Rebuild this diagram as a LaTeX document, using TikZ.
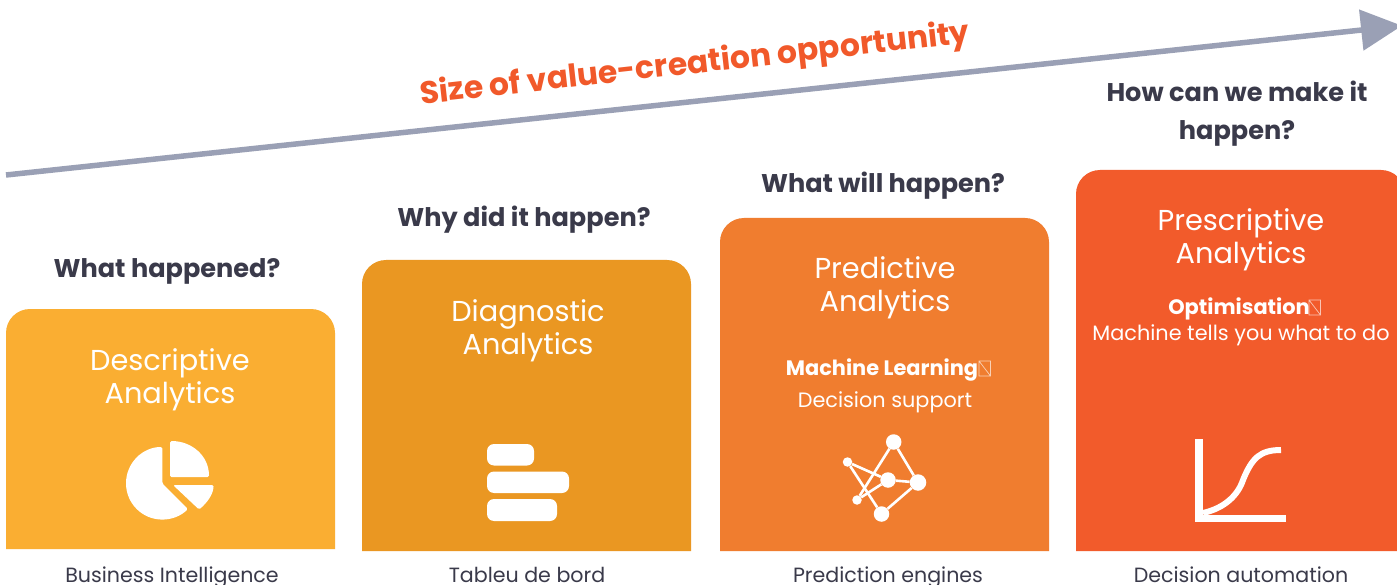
\documentclass[tikz,border=0pt]{standalone}
\usepackage{fontspec}
\setmainfont{Poppins}
\usetikzlibrary{arrows.meta}
\definecolor{barA}{HTML}{FAAE32}
\definecolor{barB}{HTML}{EA9722}
\definecolor{barC}{HTML}{F07D2F}
\definecolor{barD}{HTML}{F25B2B}
\definecolor{arrowgrey}{HTML}{9AA0B5}
\definecolor{ink}{HTML}{3A3A4A}
\definecolor{titleorange}{HTML}{F1592A}
\tikzset{
  x=1pt,y=-1pt,
  question/.style={font=\fontsize{25.6}{30}\selectfont\bfseries,text=ink,anchor=base,inner sep=0pt},
  heading/.style={font=\fontsize{28.8}{30}\selectfont,text=white,anchor=base,inner sep=0pt},
  strong/.style={font=\fontsize{20.9}{24}\selectfont\bfseries,text=white,anchor=base,inner sep=0pt},
  plain/.style={font=\fontsize{20.8}{24}\selectfont,text=white,anchor=base,inner sep=0pt},
  caption/.style={font=\fontsize{20.6}{24}\selectfont,text=ink,anchor=base,inner sep=0pt},
  netbig/.style={circle,fill=white,inner sep=0pt,minimum size=15.5pt},
  netsmall/.style={circle,fill=white,inner sep=0pt,minimum size=9.5pt},
  netedge/.style={draw=white,line width=2.6pt},
  tofu/.style={draw=white,opacity=.65,line width=.7pt},
  pill/.style={fill=white,rounded corners=7pt}
}
\begin{document}
\begin{tikzpicture}
\useasboundingbox (0,0) rectangle (1397,585);
\clip (0,0) rectangle (1397,585);
\fill[white] (0,0) rectangle (1397,585);
% bars
\fill[barA] (6,549) [rounded corners=24pt] -- (6,309) -- (335,309) [sharp corners] -- (335,549) -- cycle;
\fill[barB] (362,551) [rounded corners=24pt] -- (362,260) -- (691,260) [sharp corners] -- (691,551) -- cycle;
\fill[barC] (720,551) [rounded corners=24pt] -- (720,218) -- (1049,218) [sharp corners] -- (1049,551) -- cycle;
\fill[barD] (1076,551) [rounded corners=24pt] -- (1076,170) -- (1405,170) [sharp corners] -- (1405,551) -- cycle;
% arrow
\coordinate (arrowstart) at (6,175);
\coordinate (arrowend) at (1402,25.7);
\draw[arrowgrey,line width=5.5pt,-{Triangle[length=41pt,width=40pt]}] (arrowstart) -- (arrowend);
\node[font=\fontsize{31.4}{36}\selectfont\bfseries,text=titleorange,rotate=6.4,inner sep=0pt] (title) at (695,65) {Size of value-creation opportunity};
% questions
\node[question] (q1) at (167,278) {What happened?};
\node[question] (q2) at (524,227) {Why did it happen?};
\node[question] (q3) at (883,193) {What will happen?};
\node[question] (q4a) at (1237,102) {How can we make it};
\node[question] (q4b) at (1237,140) {happen?};
% headings
\node[heading] (h1a) at (170,370) {Descriptive};
\node[heading] (h1b) at (170,403) {Analytics};
\node[heading] (h2a) at (528,321) {Diagnostic};
\node[heading] (h2b) at (528,354) {Analytics};
\node[heading] (h3a) at (885,279) {Predictive};
\node[heading] (h3b) at (885,312) {Analytics};
\node[heading] (h4a) at (1241,231) {Prescriptive};
\node[heading] (h4b) at (1241,264) {Analytics};
% body
\node[strong] (m3) at (882,375) {Machine Learning};
\node[plain] (d3) at (885,407) {Decision support};
\node[strong] (m4) at (1239,314) {Optimisation};
\node[plain] (d4) at (1241,340) {Machine tells you what to do};
\draw[tofu] (979,361) rectangle (990.5,376) (979,361) -- (990.5,376);
\draw[tofu] (1309,300) rectangle (1320.5,315) (1309,300) -- (1320.5,315);
% captions
\node[caption] (c1) at (172,582) {Business Intelligence};
\node[caption] (c2) at (527,582) {Tableu de bord};
\node[caption] (c3) at (888,582) {Prediction engines};
\node[caption] (c4) at (1241,582) {Decision automation};
% pie icon
\fill[white,rounded corners=1.5pt] (162.3,483.3) -- (162.3,447) arc[start angle=-90,end angle=-315,radius=36.3] -- cycle;
\fill[white,rounded corners=1.5pt] (170,477) -- (170,441) .. controls (192,441) and (209,456) .. (209,477) -- cycle;
\fill[white,rounded corners=1.5pt] (173,485) -- (213.5,485) .. controls (213.5,494) and (207,503) .. (199,509.5) -- cycle;
% bars icon
\fill[pill] (487,444) rectangle (534,465.5);
\fill[pill] (487,471.5) rectangle (569,493);
\fill[pill] (487,499) rectangle (557,521);
% network icon
\node[netbig] (ntop) at (893.7,442) {};
\node[netsmall] (nleft) at (847.5,462) {};
\node[netbig] (nmid) at (888,480) {};
\node[netbig,minimum size=16.5pt] (nright) at (918,482.5) {};
\node[netbig] (nbot) at (881.5,514) {};
\node[netsmall] (nlow) at (857,500) {};
\draw[netedge] (ntop) -- (nright);
\draw[netedge] (ntop) -- (nlow);
\draw[netedge] (nleft) -- (nmid);
\draw[netedge] (nleft) -- (nbot);
\draw[netedge] (nmid) -- (nright);
\draw[netedge] (nmid) -- (nlow);
\draw[netedge] (nright) -- (nbot);
% curve icon
\fill[white] (1195,439) rectangle (1203,515);
\fill[white] (1195,515) rectangle (1286,522);
\draw[white,line width=6pt] (1203,513) .. controls (1225,508) and (1238,495) .. (1243,480) .. controls (1252,458) and (1260,450) .. (1281,450);
\end{tikzpicture}
\end{document}
